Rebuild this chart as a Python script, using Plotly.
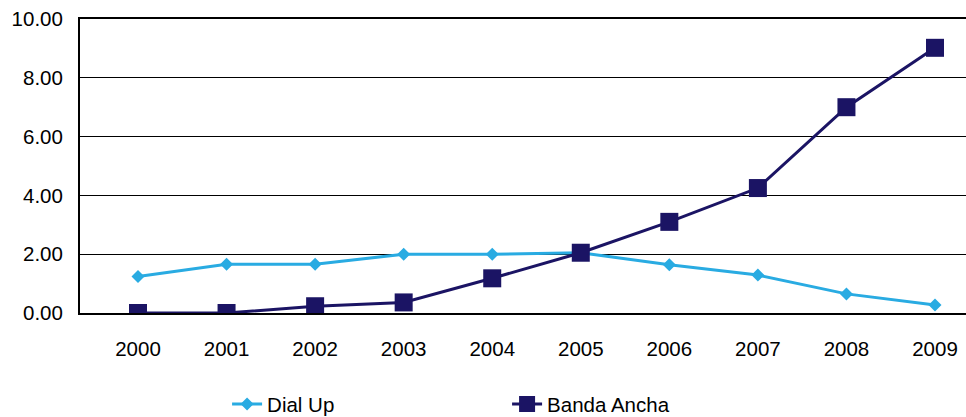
import plotly.graph_objects as go

years = ["2000", "2001", "2002", "2003", "2004", "2005", "2006", "2007", "2008", "2009"]
dial_up = [1.24, 1.66, 1.66, 2.0, 2.0, 2.05, 1.64, 1.29, 0.65, 0.27]
banda_ancha = [0.0, 0.0, 0.23, 0.36, 1.18, 2.05, 3.1, 4.25, 7.0, 9.02]
y_ticks = [0, 2, 4, 6, 8, 10]
y_tick_labels = ["0.00", "2.00", "4.00", "6.00", "8.00", "10.00"]

FONT = "Liberation Sans, Arial, Helvetica, sans-serif"

fig = go.Figure()
fig.add_trace(go.Scatter(
    x=years, y=dial_up, name="Dial Up", mode="lines+markers",
    line=dict(color="#29ABE2", width=3),
    marker=dict(symbol="diamond", size=10, color="#29ABE2"),
))
fig.add_trace(go.Scatter(
    x=years, y=banda_ancha, name="Banda Ancha", mode="lines+markers",
    line=dict(color="#1B1464", width=3),
    marker=dict(symbol="square", size=18, color="#1B1464"),
))

fig.update_layout(
    template="none",
    width=966, height=417,
    margin=dict(l=80, r=0, t=19, b=104, autoexpand=False),
    plot_bgcolor="white", paper_bgcolor="white",
    font=dict(family=FONT, size=20.5, color="black"),
    showlegend=True,
    legend=dict(orientation="h", x=0.166, xanchor="left", y=-0.31, yanchor="middle",
                font=dict(size=20.5), entrywidth=235, entrywidthmode="pixels",
                traceorder="normal", bgcolor="rgba(0,0,0,0)"),
    xaxis=dict(type="category", range=[-0.655, 9.35], showgrid=False, automargin=False,
               showline=True, linecolor="black", linewidth=2, mirror=True,
               ticks="", ticklabelstandoff=16, zeroline=False),
    yaxis=dict(range=[0, 10], tickvals=y_ticks, ticktext=y_tick_labels, automargin=False,
               showgrid=True, gridcolor="black", gridwidth=1,
               showline=True, linecolor="black", linewidth=2,
               ticks="", ticklabelstandoff=11, zeroline=False),
)

fig.write_html(
    "out.html",
    config={"displayModeBar": False},
    post_script="document.body.style.margin='0';document.body.style.overflow='hidden';",
)
